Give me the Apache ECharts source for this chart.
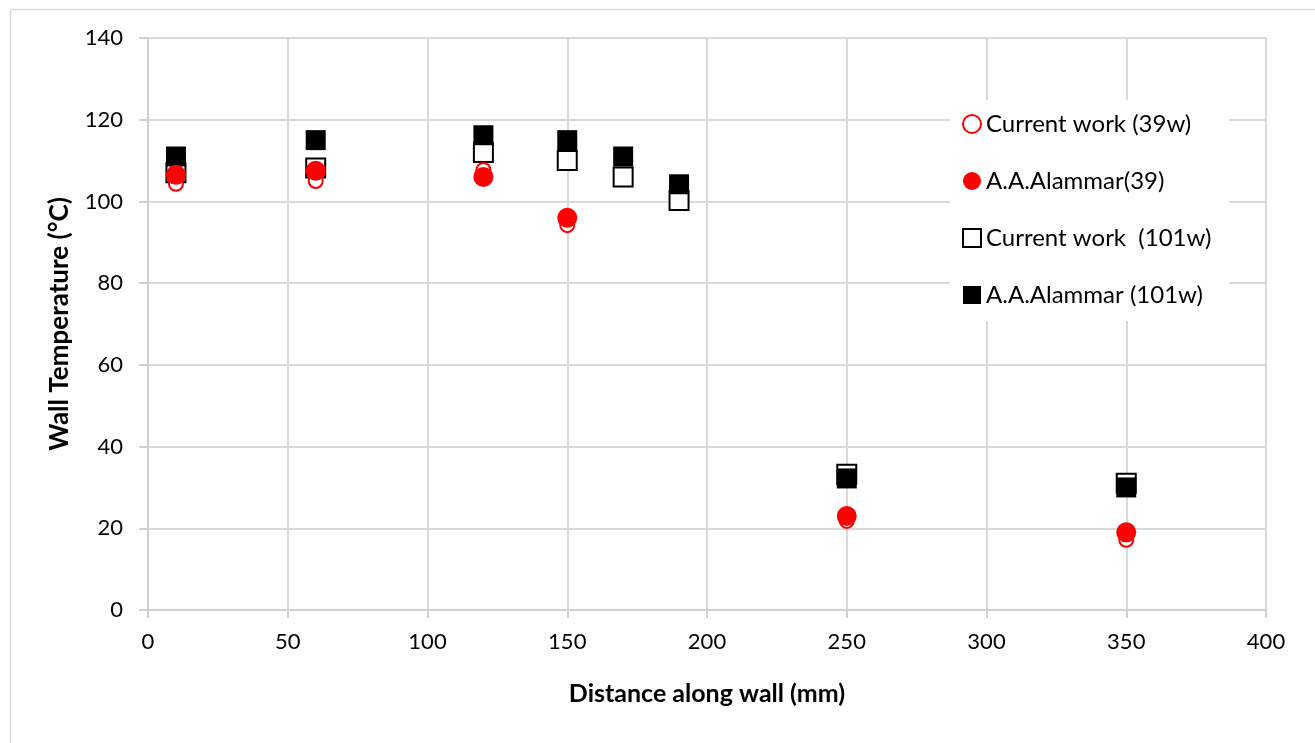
<!DOCTYPE html>
<html>
<head>
<meta charset="utf-8">
<script src="https://cdn.jsdelivr.net/npm/echarts@6/dist/echarts.min.js"></script>
<style>html,body{margin:0;padding:0;background:#fff}#c{width:1315px;height:743px}</style>
</head>
<body>
<div id="c"></div>
<script>
const xValues = [10, 60, 120, 150, 170, 190, 250, 350];
const current39 = [[10,104.3],[60,105],[120,107.7],[150,94.2],[250,21.8],[350,17.2]];
const alammar39 = [[10,106.5],[60,107.5],[120,106],[150,96],[250,23],[350,19]];
const current101 = [[10,107],[60,108.2],[120,112],[150,110],[170,106],[190,100.2],[250,33.2],[350,31]];
const alammar101 = [[10,111],[60,115],[120,116.2],[150,115],[170,111],[190,104.2],[250,32.2],[350,30]];
const seriesNames = ['Current work (39w)', 'A.A.Alammar(39)', 'Current work  (101w)', 'A.A.Alammar (101w)'];
const xTicks = {min: 0, max: 400, interval: 50};
const yTicks = {min: 0, max: 140, interval: 20};

const font = 'Lato, "Open Sans", sans-serif';
const chart = echarts.init(document.getElementById('c'), null, {renderer: 'canvas'});
chart.setOption({
  animation: false,
  backgroundColor: '#fff',
  graphic: [{
    type: 'rect', left: 8, top: 7, z: -10,
    shape: {x: 0, y: 0, width: 1306, height: 740},
    style: {fill: 'none', stroke: '#d9d9d9', lineWidth: 1.5}
  }],
  grid: {left: 148, right: 49, top: 38, bottom: 133},
  xAxis: {
    type: 'value', min: xTicks.min, max: xTicks.max, interval: xTicks.interval,
    name: 'Distance along wall (mm)', nameLocation: 'middle', nameGap: 71,
    nameTextStyle: {fontFamily: font, fontSize: 25, fontWeight: 'bold', color: '#000'},
    axisLine: {show: true, lineStyle: {color: '#d0d0d0', width: 2}},
    axisTick: {show: true, length: 8, lineStyle: {color: '#d0d0d0', width: 2}},
    axisLabel: {margin: 21, fontFamily: font, fontSize: 22, color: '#000'},
    splitLine: {show: true, lineStyle: {color: '#d9d9d9', width: 2}}
  },
  yAxis: {
    type: 'value', min: yTicks.min, max: yTicks.max, interval: yTicks.interval,
    name: 'Wall Temperature (°C)', nameLocation: 'middle', nameGap: 75,
    nameTextStyle: {fontFamily: font, fontSize: 26, fontWeight: 'bold', color: '#000'},
    axisLine: {show: true, lineStyle: {color: '#d0d0d0', width: 2}},
    axisTick: {show: true, length: 9, lineStyle: {color: '#d0d0d0', width: 2}},
    axisLabel: {margin: 25, fontFamily: font, fontSize: 22, color: '#000'},
    splitLine: {show: true, lineStyle: {color: '#d9d9d9', width: 2}}
  },
  legend: {
    orient: 'vertical', left: 950, top: 100,
    data: seriesNames,
    backgroundColor: '#fff',
    padding: [12, 18, 14, 12],
    itemWidth: 18, itemHeight: 18, itemGap: 33, itemTextGap: 5,
    textStyle: {fontFamily: font, fontSize: 24, color: '#000', lineHeight: 24},
    z: 20
  },
  series: [
    {
      name: seriesNames[2], type: 'scatter', data: current101, symbol: 'rect', symbolSize: 19, z: 2,
      itemStyle: {color: '#fff', borderColor: '#000', borderWidth: 2, opacity: 1}
    },
    {
      name: seriesNames[3], type: 'scatter', data: alammar101, symbol: 'rect', symbolSize: 20, z: 3,
      itemStyle: {color: '#000', borderColor: '#000', borderWidth: 0, opacity: 1}
    },
    {
      name: seriesNames[0], type: 'scatter', data: current39, symbol: 'circle', symbolSize: 14, z: 4,
      itemStyle: {color: '#fff', borderColor: '#ff0000', borderWidth: 2, opacity: 1}
    },
    {
      name: seriesNames[1], type: 'scatter', data: alammar39, symbol: 'circle', symbolSize: 20, z: 5,
      itemStyle: {color: '#ff0000', borderWidth: 0, opacity: 1}
    }
  ]
});
</script>
</body>
</html>
